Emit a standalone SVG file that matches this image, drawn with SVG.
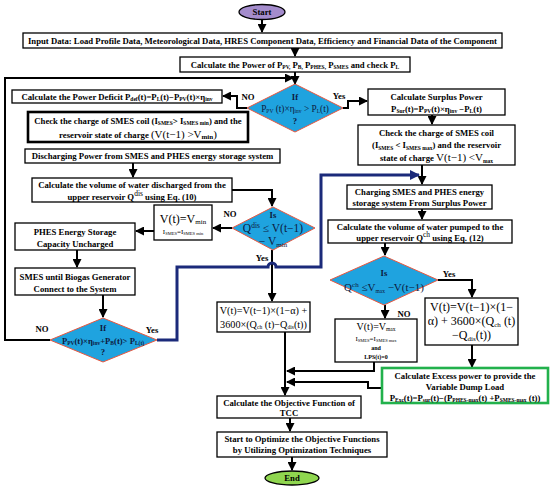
<svg xmlns="http://www.w3.org/2000/svg" width="550" height="488" viewBox="0 0 550 488">
<defs>
<marker id="a" markerWidth="9" markerHeight="9" refX="8" refY="4.5" orient="auto" markerUnits="userSpaceOnUse"><path d="M0,0 L9,4.5 L0,9 z" fill="#000"/></marker>
<marker id="ab" markerWidth="10" markerHeight="10" refX="9" refY="5" orient="auto" markerUnits="userSpaceOnUse"><path d="M0,0 L10,5 L0,10 z" fill="#1b2a7a"/></marker>
<style>
text{font-family:"Liberation Serif","Times New Roman",serif;text-anchor:middle;fill:#000}
.b{font-weight:bold;font-size:8.7px}
.box{fill:#fff;stroke:#000;stroke-width:1.3}
.dm{fill:#1fa3df;stroke:#e8573f;stroke-width:1}
.dt{fill:#0d1a40}
.c{fill:none;stroke:#000;stroke-width:2}
.cb{fill:none;stroke:#1b2a7a;stroke-width:3}
.s{font-size:5.5px}
.s6{font-size:7px}
.n{font-weight:normal}
</style>
</defs>

<g id="connectors">
<path class="c" d="M262,19.5 V32" marker-end="url(#a)"/>
<path class="c" d="M295,48 V56" marker-end="url(#a)"/>
<path class="c" d="M295,72 V84" marker-end="url(#a)"/>
<path class="c" d="M50,340 H5 V78 H293" marker-end="url(#a)"/>
<path class="c" d="M247,108 H237 V96 H223" marker-end="url(#a)"/>
<path class="c" d="M343,108 H348 V101 H367" marker-end="url(#a)"/>
<path class="c" d="M432,115 V124" marker-end="url(#a)"/>
<path class="c" d="M422,165 V184" marker-end="url(#a)"/>
<path class="c" d="M133,163 V177" marker-end="url(#a)"/>
<path class="c" d="M232,190 H272 V206" marker-end="url(#a)"/>
<path class="c" d="M232,228 H213" marker-end="url(#a)"/>
<path class="c" d="M154,231 H136" marker-end="url(#a)"/>
<path class="c" d="M77,250 V267" marker-end="url(#a)"/>
<path class="c" d="M103,295 V317" marker-end="url(#a)"/>
<path class="c" d="M272,250 V301" marker-end="url(#a)"/>
<path class="cb" d="M157,340 H177 V267 H268 a4,4 0 0 1 8,0 H321 V175 H419" marker-end="url(#ab)"/>
<path class="c" d="M422,209 V219" marker-end="url(#a)"/>
<path class="c" d="M385,243 V255" marker-end="url(#a)"/>
<path class="c" d="M438,280 H472 V297" marker-end="url(#a)"/>
<path class="c" d="M385,305 V318" marker-end="url(#a)"/>
<path class="c" d="M472,345 V367" marker-end="url(#a)"/>
<path class="c" d="M285,332 V395" marker-end="url(#a)"/>
<path class="c" d="M374,362 V371 H287" marker-end="url(#a)"/>
<path class="c" d="M382,388 H368 V382 H287" marker-end="url(#a)"/>
<path class="c" d="M290,418 V431" marker-end="url(#a)"/>
<path class="c" d="M292,457 V470" marker-end="url(#a)"/>
</g>

<g id="start">
<ellipse cx="262" cy="12" rx="23" ry="7.5" fill="#a48ccc" stroke="#000" stroke-width="1.3"/>
<text class="b" x="262" y="15">Start</text>
</g>

<g id="input">
<rect class="box" x="23" y="33" width="479" height="15"/>
<text class="b" x="262.5" y="43.8">Input Data: Load Profile Data, Meteorological Data, HRES Component Data, Efficiency and Financial Data of the Component</text>
</g>

<g id="calc-power">
<rect class="box" x="180" y="57" width="230" height="15"/>
<text class="b" x="295" y="67.5">Calculate the Power of P<tspan class="s" dy="1.5">PV,</tspan><tspan dy="-1.5"> P</tspan><tspan class="s" dy="1.5">B,</tspan><tspan dy="-1.5"> P</tspan><tspan class="s" dy="1.5">PHES,</tspan><tspan dy="-1.5"> P</tspan><tspan class="s" dy="1.5">SMES</tspan><tspan dy="-1.5"> and check P</tspan><tspan class="s" dy="1.5">L</tspan></text>
</g>

<g id="decision-pv">
<polygon class="dm" points="295,84 343,108 295,132 247,108"/>
<text class="b dt" x="295" y="99.5">If</text>
<text class="dt" x="295" y="111.5" style="font-size:9.3px">P<tspan class="s" dy="1.5">PV</tspan><tspan dy="-1.5"> (t)×η</tspan><tspan class="s" dy="1.5">inv</tspan><tspan dy="-1.5"> &gt; P</tspan><tspan class="s" dy="1.5">L</tspan><tspan dy="-1.5">(t)</tspan></text>
<text class="b dt" x="295" y="123.5">?</text>
<text class="b" x="248" y="100">NO</text>
<text class="b" x="339" y="99">Yes</text>
</g>

<g id="deficit">
<rect class="box" x="12" y="90" width="210" height="13"/>
<text class="b" x="117" y="99.8">Calculate the Power Deficit P<tspan class="s" dy="1.5">def</tspan><tspan dy="-1.5">(t)=P</tspan><tspan class="s" dy="1.5">L</tspan><tspan dy="-1.5">(t)−P</tspan><tspan class="s" dy="1.5">PV</tspan><tspan dy="-1.5">(t)×η</tspan><tspan class="s" dy="1.5">inv</tspan></text>
</g>

<g id="check-min">
<rect x="28" y="112" width="220" height="30" fill="#fff" stroke="#000" stroke-width="2.6"/>
<text class="b" x="138" y="123.5">Check the charge of SMES coil (I<tspan class="s" dy="1.5">SMES</tspan><tspan dy="-1.5">&gt; I</tspan><tspan class="s" dy="1.5">SMES min</tspan><tspan dy="-1.5">) and the</tspan></text>
<text class="b" x="138" y="137.5">reservoir state of charge <tspan class="n" style="font-size:11px">(V(t−1) &gt;V</tspan><tspan class="s6" dy="1.5">min</tspan><tspan class="n" dy="-1.5" style="font-size:11px">)</tspan></text>
</g>

<g id="discharging">
<rect class="box" x="25" y="149" width="255" height="14"/>
<text class="b" x="152.5" y="159.3">Discharging  Power from SMES and PHES energy storage system</text>
</g>

<g id="calc-dis">
<rect class="box" x="32" y="178" width="200" height="24"/>
<text class="b" x="132" y="188">Calculate the volume of water discharged from the</text>
<text class="b" x="132" y="199.5">upper reservoir Q<tspan class="n" style="font-size:7.5px" dy="-4">dis</tspan><tspan dy="4"> using Eq. (10)</tspan></text>
</g>

<g id="decision-dis">
<polygon class="dm" points="273,207 315,228 273,250 232,228"/>
<text class="b dt" x="273" y="218">Is</text>
<text class="dt" x="273" y="231.5" style="font-size:11.5px">Q<tspan style="font-size:7.5px" dy="-4">dis</tspan><tspan dy="4"> ≤ V(t−1)</tspan></text>
<text class="dt" x="273" y="245" style="font-size:11.5px">− V<tspan class="s6" dy="1.5">min</tspan></text>
<text class="b" x="230" y="217">NO</text>
<text class="b" x="262" y="261">Yes</text>
</g>

<g id="vmin">
<rect class="box" x="154" y="205" width="58" height="35"/>
<text x="183" y="222.5" style="font-size:12px">V(t)=V<tspan class="s6" dy="1.5">min</tspan></text>
<text x="183" y="234" style="font-size:7px">I<tspan style="font-size:4.5px" dy="1">SMES</tspan><tspan dy="-1">=I</tspan><tspan style="font-size:4.5px" dy="1">SMES min</tspan></text>
</g>

<g id="phes-uncharged">
<rect class="box" x="15" y="223" width="120" height="27"/>
<text class="b" x="75" y="234.5">PHES Energy Storage</text>
<text class="b" x="75" y="246.5">Capacity Uncharged</text>
</g>

<g id="smes-biogas">
<rect class="box" x="15" y="268" width="120" height="27"/>
<text class="b" x="75" y="279.5">SMES until Biogas Generator</text>
<text class="b" x="75" y="291.5">Connect to the System</text>
</g>

<g id="decision-biogas">
<polygon class="dm" points="103,318 157,340 103,362 50,340"/>
<text class="b dt" x="103" y="331">If</text>
<text class="b dt" x="103" y="343.5" style="font-size:8.6px">P<tspan class="s" dy="1.5">PV</tspan><tspan dy="-1.5">(t)×η</tspan><tspan class="s" dy="1.5">inv</tspan><tspan dy="-1.5">+P</tspan><tspan class="s" dy="1.5">B</tspan><tspan dy="-1.5">(t)&gt; P</tspan><tspan class="s" dy="1.5">L(t)</tspan></text>
<text class="b dt" x="103" y="354.5">?</text>
<text class="b" x="42" y="332">NO</text>
<text class="b" x="152" y="333">Yes</text>
</g>

<g id="volume-mid">
<rect class="box" x="217" y="302" width="93" height="30"/>
<text x="263.5" y="314" style="font-size:10.2px">V(t)=V(t−1)×(1−α) +</text>
<text x="263.5" y="327.5" style="font-size:10.2px">3600×(Q<tspan class="s" dy="1.5">ch</tspan><tspan dy="-1.5"> (t)−Q</tspan><tspan class="s" dy="1.5">dis</tspan><tspan dy="-1.5">(t))</tspan></text>
</g>

<g id="surplus">
<rect class="box" x="368" y="89" width="137" height="26"/>
<text class="b" x="436.5" y="99.5">Calculate Surplus Power</text>
<text class="b" x="436.5" y="111.5">P<tspan class="s" dy="1.5">Sur</tspan><tspan dy="-1.5">(t)=P</tspan><tspan class="s" dy="1.5">PV</tspan><tspan dy="-1.5">(t)×η</tspan><tspan class="s" dy="1.5">inv</tspan><tspan dy="-1.5"> −P</tspan><tspan class="s" dy="1.5">L</tspan><tspan dy="-1.5">(t)</tspan></text>
</g>

<g id="check-max">
<rect class="box" x="358" y="125" width="157" height="40"/>
<text class="b" x="436.5" y="135.5">Check the charge of SMES coil</text>
<text class="b" x="436.5" y="148">(I<tspan class="s" dy="1.5">SMES</tspan><tspan dy="-1.5"> &lt; I</tspan><tspan class="s" dy="1.5">SMES max</tspan><tspan dy="-1.5">) and the reservoir</tspan></text>
<text class="b" x="436.5" y="161">state of charge <tspan class="n" style="font-size:11px">V(t−1) &lt;V</tspan><tspan class="s" dy="1.5">max</tspan></text>
</g>

<g id="charging">
<rect class="box" x="347" y="185" width="145" height="24"/>
<text class="b" x="419.5" y="194.5">Charging SMES and PHES energy</text>
<text class="b" x="419.5" y="206">storage system From Surplus Power</text>
</g>

<g id="calc-ch">
<rect class="box" x="328" y="220" width="184" height="23"/>
<text class="b" x="420" y="229.5">Calculate the volume of water pumped to the</text>
<text class="b" x="420" y="241">upper reservoir Q<tspan class="n" style="font-size:7.5px" dy="-4">ch</tspan><tspan dy="4">  using Eq. (12)</tspan></text>
</g>

<g id="decision-ch">
<polygon class="dm" points="384,256 438,280 384,305 330,280"/>
<text class="b dt" x="384" y="276">Is</text>
<text class="dt" x="384" y="291" style="font-size:11px">Q<tspan style="font-size:7px" dy="-4">ch</tspan><tspan dy="4"> ≤V</tspan><tspan class="s" dy="1.5">max</tspan><tspan dy="-1.5"> −V(t−1)</tspan></text>
<text class="b" x="449" y="277">Yes</text>
<text class="b" x="404" y="317">NO</text>
</g>

<g id="volume-right">
<rect class="box" x="425" y="298" width="93" height="47"/>
<text x="471.5" y="311" style="font-size:12px">V(t)=V(t−1)×(1−</text>
<text x="471.5" y="325" style="font-size:12px">α) + 3600×(Q<tspan class="s6" dy="1.5">ch</tspan><tspan dy="-1.5"> (t)</tspan></text>
<text x="471.5" y="339" style="font-size:12px">−Q<tspan class="s6" dy="1.5">dis</tspan><tspan dy="-1.5">(t))</tspan></text>
</g>

<g id="vmax">
<rect class="box" x="335" y="319" width="82" height="43"/>
<text x="376" y="329.5" style="font-size:10px">V(t)=V<tspan class="s" dy="1.5">max</tspan></text>
<text x="376" y="340.5" style="font-size:7px">I<tspan style="font-size:4.5px" dy="1">SMES</tspan><tspan dy="-1">=I</tspan><tspan style="font-size:4.5px" dy="1">SMES max</tspan></text>
<text class="b" x="376" y="349.5" style="font-size:6px">and</text>
<text class="b" x="376" y="358.5" style="font-size:6px">LPS(t)=0</text>
</g>

<g id="excess">
<rect x="382" y="368" width="166" height="35" fill="#fff" stroke="#22b14c" stroke-width="2.6"/>
<text class="b" x="465" y="378.5">Calculate Excess power to provide the</text>
<text class="b" x="465" y="389.5">Variable Dump Load</text>
<text class="b" x="465" y="400.5">P<tspan class="s" dy="1.5">Exc</tspan><tspan dy="-1.5">(t)=P</tspan><tspan class="s" dy="1.5">sur</tspan><tspan dy="-1.5">(t)−(P</tspan><tspan class="s" dy="1.5">PHES-max</tspan><tspan dy="-1.5">(t) +P</tspan><tspan class="s" dy="1.5">SMES-max</tspan><tspan dy="-1.5"> (t))</tspan></text>
</g>

<g id="objective">
<rect class="box" x="217" y="396" width="144" height="22"/>
<text class="b" x="289" y="405.5">Calculate the Objective Function of</text>
<text class="b" x="289" y="415.5">TCC</text>
</g>

<g id="optimize">
<rect class="box" x="217" y="432" width="170" height="25"/>
<text class="b" x="302" y="442">Start  to Optimize the Objective Functions</text>
<text class="b" x="302" y="453">by Utilizing Optimization Techniques</text>
</g>

<g id="end">
<ellipse cx="292" cy="478" rx="27" ry="7" fill="#8fd64f" stroke="#000" stroke-width="1.3"/>
<text class="b" x="292" y="481">End</text>
</g>
</svg>
